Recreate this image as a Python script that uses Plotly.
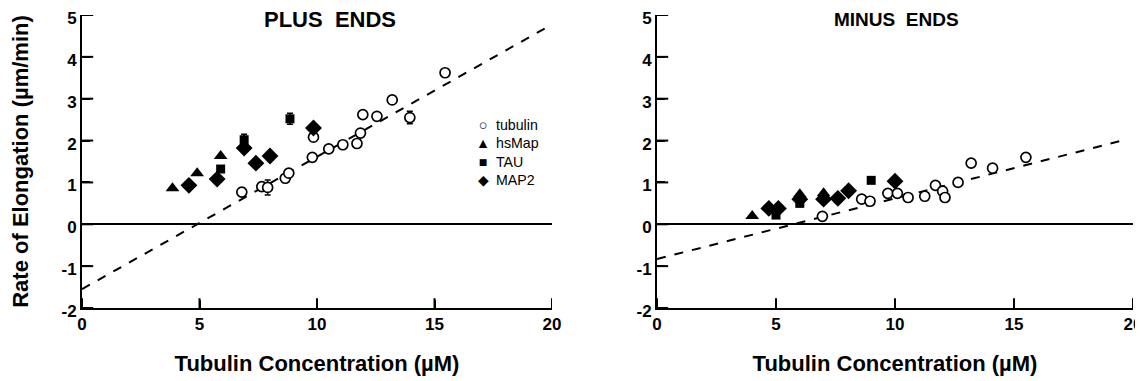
import plotly.graph_objects as go

# ---------------- data ----------------
# PLUS ENDS
tub_plus_x = [6.8, 7.65, 7.9, 8.65, 8.8, 9.8, 9.85, 10.5, 11.1, 11.7, 11.85, 11.95, 12.55, 13.2, 13.95, 15.45]
tub_plus_y = [0.77, 0.9, 0.88, 1.1, 1.22, 1.6, 2.08, 1.8, 1.9, 1.93, 2.18, 2.62, 2.58, 2.97, 2.55, 3.62]
tub_plus_err = [0.1, 0, 0.18, 0, 0, 0, 0, 0, 0, 0, 0, 0, 0, 0, 0.15, 0]
hsmap_plus_x = [3.85, 4.9, 5.9]
hsmap_plus_y = [0.86, 1.22, 1.63]
tau_plus_x = [5.9, 6.9, 8.85]
tau_plus_y = [1.32, 2.02, 2.52]
tau_plus_err = [0, 0.13, 0.13]
map2_plus_x = [4.55, 5.75, 6.9, 7.4, 8.0, 9.85]
map2_plus_y = [0.93, 1.08, 1.82, 1.46, 1.63, 2.3]
plus_fit_x = [0, 19.7]
plus_fit_y = [-1.55, 4.68]

# MINUS ENDS
tub_minus_x = [6.95, 8.6, 8.95, 9.7, 10.1, 10.55, 11.25, 11.7, 12.0, 12.1, 12.65, 13.2, 14.1, 15.5]
tub_minus_y = [0.19, 0.6, 0.55, 0.74, 0.74, 0.64, 0.67, 0.93, 0.79, 0.64, 1.0, 1.46, 1.34, 1.6]
hsmap_minus_x = [4.0, 6.0, 7.0]
hsmap_minus_y = [0.2, 0.72, 0.74]
tau_minus_x = [5.0, 6.0, 9.0]
tau_minus_y = [0.22, 0.5, 1.05]
map2_minus_x = [4.7, 5.1, 6.0, 7.0, 7.6, 8.05, 10.0]
map2_minus_y = [0.38, 0.38, 0.6, 0.6, 0.62, 0.8, 1.03]
minus_fit_x = [0, 19.75]
minus_fit_y = [-0.83, 2.03]

x_range = [0, 20]
y_range = [-2, 5]
x_ticks = [0, 5, 10, 15, 20]
x_tick_labels = ["0", "5", "10", "15", "20"]
y_ticks = [-2, -1, 0, 1, 2, 3, 4, 5]
y_tick_labels = ["-2", "-1", "0", "1", "2", "3", "4", "5"]

legend_symbols = ["○", "▲", "■", "◆"]
legend_names = ["tubulin", "hsMap", "TAU", "MAP2"]

FONT = "Liberation Sans, Arial, Helvetica, sans-serif"
BLACK = "#000000"

fig = go.Figure()


def add_panel(xa, ya, tub_x, tub_y, tub_err, hs_x, hs_y, tau_x, tau_y, tau_err,
              m2_x, m2_y, fit_x, fit_y):
    # inside tick marks, clipped to the plotting area
    fig.add_trace(go.Scatter(x=x_ticks, y=[y_range[0]] * len(x_ticks), mode="markers",
                             xaxis=xa, yaxis=ya, showlegend=False, hoverinfo="skip",
                             cliponaxis=True,
                             marker=dict(symbol="line-ns", size=14,
                                         line=dict(color=BLACK, width=2))))
    fig.add_trace(go.Scatter(x=[x_range[0]] * len(y_ticks), y=y_ticks, mode="markers",
                             xaxis=xa, yaxis=ya, showlegend=False, hoverinfo="skip",
                             cliponaxis=True,
                             marker=dict(symbol="line-ew", size=16,
                                         line=dict(color=BLACK, width=2))))
    fig.add_trace(go.Scatter(x=fit_x, y=fit_y, mode="lines", xaxis=xa, yaxis=ya,
                             line=dict(color=BLACK, width=2, dash="dash"),
                             showlegend=False, hoverinfo="skip"))
    fig.add_trace(go.Scatter(x=tub_x, y=tub_y, mode="markers", xaxis=xa, yaxis=ya,
                             name="tubulin", showlegend=False,
                             error_y=dict(type="data", array=tub_err, visible=True,
                                          color=BLACK, thickness=1.5, width=3) if tub_err else None,
                             marker=dict(symbol="circle", size=10, color="white",
                                         line=dict(color=BLACK, width=1.7))))
    fig.add_trace(go.Scatter(x=hs_x, y=hs_y, mode="markers", xaxis=xa, yaxis=ya,
                             name="hsMap", showlegend=False,
                             marker=dict(symbol="triangle-up", size=12, color=BLACK)))
    fig.add_trace(go.Scatter(x=tau_x, y=tau_y, mode="markers", xaxis=xa, yaxis=ya,
                             name="TAU", showlegend=False,
                             error_y=dict(type="data", array=tau_err, visible=True,
                                          color=BLACK, thickness=1.5, width=3) if tau_err else None,
                             marker=dict(symbol="square", size=9, color=BLACK)))
    fig.add_trace(go.Scatter(x=m2_x, y=m2_y, mode="markers", xaxis=xa, yaxis=ya,
                             name="MAP2", showlegend=False,
                             marker=dict(symbol="diamond", size=13, color=BLACK)))


add_panel("x", "y", tub_plus_x, tub_plus_y, tub_plus_err, hsmap_plus_x, hsmap_plus_y,
          tau_plus_x, tau_plus_y, tau_plus_err, map2_plus_x, map2_plus_y,
          plus_fit_x, plus_fit_y)
add_panel("x2", "y2", tub_minus_x, tub_minus_y, None, hsmap_minus_x, hsmap_minus_y,
          tau_minus_x, tau_minus_y, None, map2_minus_x, map2_minus_y,
          minus_fit_x, minus_fit_y)

# page body has an 8px margin, so the figure is laid out 8px smaller
OFF = 8
W, H = 1143 - OFF, 381 - OFF


def px(v):
    return (v - OFF) / W


def py(v):
    return 1 - (v - OFF) / H


ydom = [py(308), py(15)]

axis_common = dict(
    showline=True, linecolor=BLACK, linewidth=2, mirror=False,
    showgrid=False, automargin=False, ticklabeloverflow="allow",
    tickfont=dict(family=FONT, size=17, color=BLACK),
    ticks="inside", ticklen=8, tickwidth=2, tickcolor=BLACK,
)

xaxis_common = dict(axis_common, range=x_range, tickmode="array", tickvals=x_ticks,
                    ticktext=["<b>%s</b>" % t for t in x_tick_labels], zeroline=False,
                    title=dict(text="<b>Tubulin Concentration (µM)</b>",
                               font=dict(family=FONT, size=22, color=BLACK),
                               standoff=22))
yaxis_common = dict(axis_common, range=y_range, tickmode="array", tickvals=y_ticks,
                    ticktext=["<b>%s</b>" % t for t in y_tick_labels],
                    ticklabelshift=3,
                    zeroline=True, zerolinecolor=BLACK, zerolinewidth=2)

fig.update_layout(
    width=W, height=H,
    margin=dict(l=0, r=0, t=0, b=0, autoexpand=False),
    paper_bgcolor="white", plot_bgcolor="white",
    showlegend=False,
    xaxis=dict(xaxis_common, domain=[px(82), px(552)], anchor="y"),
    yaxis=dict(yaxis_common, domain=ydom, anchor="x",
               title=dict(text="<b>Rate of Elongation (µm/min)</b>",
                          font=dict(family=FONT, size=22, color=BLACK),
                          standoff=28)),
    xaxis2=dict(xaxis_common, domain=[px(657), px(1133)], anchor="y2"),
    yaxis2=dict(yaxis_common, domain=ydom, anchor="x2"),
)

fig.add_annotation(text="<b>PLUS\u00a0 ENDS</b>", x=px(330), y=py(19), xref="paper", yref="paper",
                   xanchor="center", yanchor="middle", showarrow=False,
                   font=dict(family=FONT, size=22, color=BLACK))
fig.add_annotation(text="<b>MINUS\u00a0 ENDS</b>", x=px(896), y=py(19), xref="paper", yref="paper",
                   xanchor="center", yanchor="middle", showarrow=False,
                   font=dict(family=FONT, size=19, color=BLACK))

fig.add_annotation(text="<br>".join(legend_symbols), x=px(483), y=py(115),
                   xref="paper", yref="paper", xanchor="center", yanchor="top",
                   align="center", showarrow=False,
                   font=dict(family=FONT, size=14.2, color=BLACK))
fig.add_annotation(text="<br>".join(legend_names), x=px(494), y=py(115),
                   xref="paper", yref="paper", xanchor="left", yanchor="top",
                   align="left", showarrow=False,
                   font=dict(family=FONT, size=14.2, color=BLACK))

fig.write_html("out.html")
